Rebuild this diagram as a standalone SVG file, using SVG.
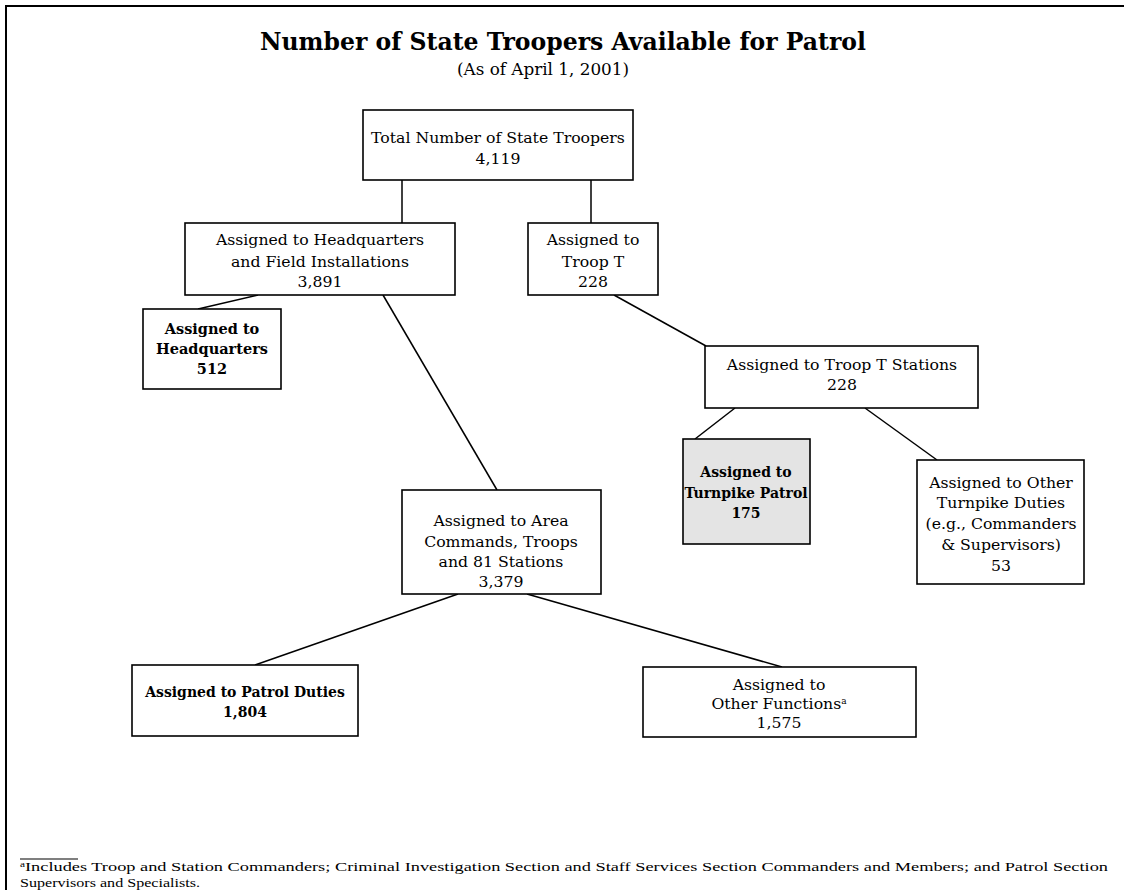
<svg xmlns="http://www.w3.org/2000/svg" width="1124" height="890" viewBox="0 0 1124 890">
<style>
.box{fill:#fff;stroke:#000;stroke-width:1.6}
.shade{fill:#e4e4e4;stroke:#000;stroke-width:1.6}
.t{font-family:"DejaVu Serif","Liberation Serif",serif;font-size:15.7px;text-anchor:middle;fill:#000}
.b{font-weight:bold;font-size:14px}
.conn line{stroke:#000;stroke-width:1.5}
.fn{font-family:"Liberation Serif",serif;font-size:13px}
</style>
<rect width="1124" height="890" fill="#fff"/>
<path d="M6 890V6H1124" fill="none" stroke="#000" stroke-width="2"/>
<text x="563" y="50" class="t" style="font-size:23.5px;font-weight:bold" textLength="606" lengthAdjust="spacingAndGlyphs">Number of State Troopers Available for Patrol</text>
<text x="543" y="75" class="t" style="font-size:16px" textLength="172" lengthAdjust="spacingAndGlyphs">(As of April 1, 2001)</text>
<g class="conn" id="connectors">
<line x1="402" y1="180" x2="402" y2="223"/>
<line x1="591" y1="180" x2="591" y2="223"/>
<line x1="258" y1="295" x2="198" y2="309"/>
<line x1="383" y1="295" x2="497" y2="490"/>
<line x1="614" y1="295" x2="706" y2="346"/>
<line x1="735" y1="408" x2="695" y2="439"/>
<line x1="865" y1="408" x2="937" y2="460"/>
<line x1="458" y1="594" x2="255" y2="665"/>
<line x1="527" y1="594" x2="782" y2="667"/>
</g>
<g id="total">
<rect class="box" x="363" y="110" width="270" height="70"/>
<text class="t" x="498" y="143">Total Number of State Troopers</text>
<text class="t" x="498" y="164">4,119</text>
</g>
<g id="hqfield">
<rect class="box" x="185" y="223" width="270" height="72"/>
<text class="t" x="320" y="245">Assigned to Headquarters</text>
<text class="t" x="320" y="267">and Field Installations</text>
<text class="t" x="320" y="287">3,891</text>
</g>
<g id="troopt">
<rect class="box" x="528" y="223" width="130" height="72"/>
<text class="t" x="593" y="245">Assigned to</text>
<text class="t" x="593" y="267">Troop T</text>
<text class="t" x="593" y="287">228</text>
</g>
<g id="hq">
<rect class="box" x="143" y="309" width="138" height="80"/>
<text class="t b" x="212" y="334" style="font-size:14.5px">Assigned to</text>
<text class="t b" x="212" y="354" style="font-size:14.5px">Headquarters</text>
<text class="t b" x="212" y="374" style="font-size:14.5px">512</text>
</g>
<g id="stations">
<rect class="box" x="705" y="346" width="273" height="62"/>
<text class="t" x="842" y="370">Assigned to Troop T Stations</text>
<text class="t" x="842" y="390">228</text>
</g>
<g id="turnpike">
<rect class="shade" x="683" y="439" width="127" height="105"/>
<text class="t b" x="746" y="477">Assigned to</text>
<text class="t b" x="746" y="498">Turnpike Patrol</text>
<text class="t b" x="746" y="518">175</text>
</g>
<g id="otherturnpike">
<rect class="box" x="917" y="460" width="167" height="124"/>
<text class="t" x="1001" y="488">Assigned to Other</text>
<text class="t" x="1001" y="508">Turnpike Duties</text>
<text class="t" x="1001" y="529">(e.g., Commanders</text>
<text class="t" x="1001" y="550">&amp; Supervisors)</text>
<text class="t" x="1001" y="571">53</text>
</g>
<g id="area">
<rect class="box" x="402" y="490" width="199" height="104"/>
<text class="t" x="501" y="526">Assigned to Area</text>
<text class="t" x="501" y="547">Commands, Troops</text>
<text class="t" x="501" y="567">and 81 Stations</text>
<text class="t" x="501" y="587">3,379</text>
</g>
<g id="patrol">
<rect class="box" x="132" y="665" width="226" height="71"/>
<text class="t b" x="245" y="697">Assigned to Patrol Duties</text>
<text class="t b" x="245" y="717">1,804</text>
</g>
<g id="otherfunctions">
<rect class="box" x="643" y="667" width="273" height="70"/>
<text class="t" x="779" y="690">Assigned to</text>
<text class="t" x="779" y="709">Other Functions<tspan style="font-size:9px" baseline-shift="super">a</tspan></text>
<text class="t" x="779" y="728">1,575</text>
</g>
<line x1="20" y1="859" x2="78" y2="859" stroke="#000" stroke-width="1.2"/>
<text x="20" y="871" class="fn" textLength="1088" lengthAdjust="spacingAndGlyphs"><tspan style="font-size:8px" baseline-shift="super">a</tspan>Includes Troop and Station Commanders; Criminal Investigation Section and Staff Services Section Commanders and Members; and Patrol Section</text>
<text x="20" y="887" class="fn" textLength="180" lengthAdjust="spacingAndGlyphs">Supervisors and Specialists.</text>
</svg>
